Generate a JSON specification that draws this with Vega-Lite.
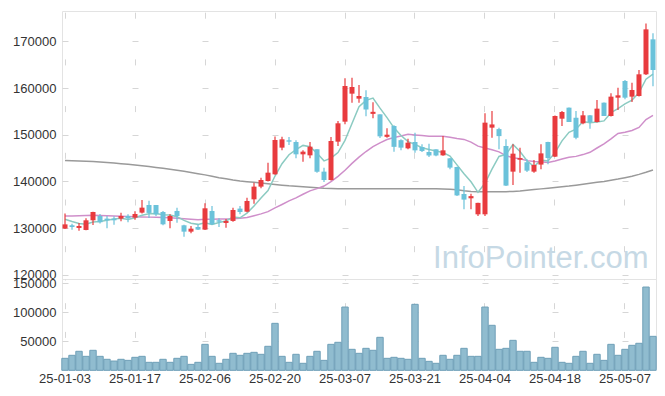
{
  "$schema": "https://vega.github.io/schema/vega-lite/v6.json",
  "padding": {"left": 12, "top": 10, "right": 5, "bottom": 5},
  "spacing": 0,
  "bounds": "flush",
  "config": {
    "font": "Liberation Sans",
    "view": {"stroke": "#e3e3e3"},
    "concat": {"spacing": 0},
    "axis": {"labelFont": "Liberation Sans", "labelFontSize": 13, "labelColor": "#333333", "ticks": false, "domain": false, "title": null, "gridColor": "#d6d6d6", "gridWidth": 1}
  },
  "datasets": {
    "k": [
      {"d":"25-01-03","o":129900,"h":133100,"l":129800,"c":130800,"v":20700,"m5":131900,"m20":132600,"m120":144450},
      {"d":"25-01-06","o":130600,"h":130950,"l":129670,"c":130250,"v":25900,"m5":131400,"m20":132600,"m120":144400},
      {"d":"25-01-07","o":130030,"h":131100,"l":129450,"c":130450,"v":32800,"m5":131000,"m20":132650,"m120":144350},
      {"d":"25-01-08","o":129600,"h":132100,"l":129550,"c":131670,"v":24100,"m5":130850,"m20":132700,"m120":144300},
      {"d":"25-01-09","o":131670,"h":133500,"l":130670,"c":133450,"v":34500,"m5":131320,"m20":132750,"m120":144250},
      {"d":"25-01-10","o":132600,"h":133000,"l":131000,"c":131250,"v":24100,"m5":131410,"m20":132700,"m120":144150},
      {"d":"25-01-13","o":132030,"h":132600,"l":129960,"c":131670,"v":19000,"m5":131700,"m20":132650,"m120":144050},
      {"d":"25-01-14","o":132030,"h":132530,"l":130740,"c":131670,"v":16000,"m5":131940,"m20":132600,"m120":143950},
      {"d":"25-01-15","o":132030,"h":133310,"l":131450,"c":132600,"v":19000,"m5":132130,"m20":132550,"m120":143800},
      {"d":"25-01-16","o":132600,"h":132950,"l":131240,"c":132100,"v":17200,"m5":131860,"m20":132500,"m120":143650},
      {"d":"25-01-17","o":132240,"h":133600,"l":131810,"c":133020,"v":22400,"m5":132210,"m20":132450,"m120":143500},
      {"d":"25-01-20","o":133310,"h":136020,"l":133100,"c":134380,"v":24100,"m5":132750,"m20":132400,"m120":143350},
      {"d":"25-01-21","o":134950,"h":135880,"l":132170,"c":133250,"v":13800,"m5":133070,"m20":132350,"m120":143200},
      {"d":"25-01-22","o":134950,"h":134950,"l":132600,"c":132950,"v":13800,"m5":133140,"m20":132300,"m120":143000},
      {"d":"25-01-23","o":133450,"h":133670,"l":130600,"c":130810,"v":19000,"m5":132880,"m20":132250,"m120":142800},
      {"d":"25-01-24","o":131530,"h":132950,"l":129960,"c":132600,"v":13800,"m5":132800,"m20":132200,"m120":142600},
      {"d":"25-01-31","o":133670,"h":134380,"l":131170,"c":132600,"v":20700,"m5":132440,"m20":132100,"m120":142400},
      {"d":"25-02-03","o":130600,"h":130700,"l":128170,"c":129240,"v":24100,"m5":131640,"m20":132000,"m120":142150},
      {"d":"25-02-04","o":129240,"h":130460,"l":128890,"c":129880,"v":10300,"m5":131030,"m20":131900,"m120":141900},
      {"d":"25-02-05","o":130240,"h":130810,"l":129600,"c":129670,"v":13800,"m5":130800,"m20":131800,"m120":141650},
      {"d":"25-02-06","o":129670,"h":135310,"l":129600,"c":134240,"v":44800,"m5":131130,"m20":131890,"m120":141400},
      {"d":"25-02-07","o":133670,"h":134740,"l":130670,"c":130810,"v":24100,"m5":130770,"m20":131920,"m120":141100},
      {"d":"25-02-10","o":131670,"h":132100,"l":130240,"c":131380,"v":12100,"m5":131200,"m20":131960,"m120":140800},
      {"d":"25-02-11","o":131100,"h":131950,"l":130100,"c":131530,"v":19000,"m5":131530,"m20":131960,"m120":140550},
      {"d":"25-02-12","o":131530,"h":134380,"l":131380,"c":133880,"v":29300,"m5":132370,"m20":131980,"m120":140300},
      {"d":"25-02-13","o":134170,"h":134740,"l":132950,"c":133450,"v":25900,"m5":132210,"m20":132090,"m120":140100},
      {"d":"25-02-14","o":133520,"h":136520,"l":133400,"c":135810,"v":29300,"m5":133210,"m20":132290,"m120":139950},
      {"d":"25-02-17","o":136160,"h":139730,"l":135240,"c":138880,"v":31000,"m5":134710,"m20":132650,"m120":139800},
      {"d":"25-02-18","o":138880,"h":140800,"l":138520,"c":140300,"v":27600,"m5":136460,"m20":133040,"m120":139650},
      {"d":"25-02-19","o":140090,"h":144020,"l":140000,"c":141870,"v":41400,"m5":138060,"m20":133530,"m120":139500},
      {"d":"25-02-20","o":141520,"h":149600,"l":141400,"c":148870,"v":81000,"m5":141150,"m20":134320,"m120":139350},
      {"d":"25-02-21","o":147230,"h":149580,"l":146660,"c":149010,"v":24100,"m5":143790,"m20":135050,"m120":139200},
      {"d":"25-02-24","o":148800,"h":149510,"l":147800,"c":148510,"v":13800,"m5":145710,"m20":135820,"m120":139050},
      {"d":"25-02-25","o":148440,"h":148800,"l":144940,"c":145800,"v":27600,"m5":146810,"m20":136460,"m120":138950},
      {"d":"25-02-26","o":145800,"h":146660,"l":144230,"c":146370,"v":12100,"m5":147710,"m20":137240,"m120":138850},
      {"d":"25-02-27","o":145580,"h":148440,"l":144940,"c":147440,"v":24100,"m5":147430,"m20":137980,"m120":138750},
      {"d":"25-02-28","o":146870,"h":146900,"l":141870,"c":142090,"v":32800,"m5":146040,"m20":138450,"m120":138650},
      {"d":"25-03-04","o":142090,"h":142940,"l":139880,"c":140300,"v":17200,"m5":144400,"m20":139010,"m120":138550},
      {"d":"25-03-05","o":140300,"h":149510,"l":140200,"c":148650,"v":44800,"m5":144970,"m20":139940,"m120":138500},
      {"d":"25-03-06","o":148510,"h":152940,"l":147580,"c":152440,"v":48300,"m5":146180,"m20":141080,"m120":138450},
      {"d":"25-03-07","o":152790,"h":162070,"l":152220,"c":160430,"v":109100,"m5":148780,"m20":142390,"m120":138450},
      {"d":"25-03-10","o":158790,"h":162210,"l":156860,"c":160210,"v":36200,"m5":152410,"m20":143860,"m120":138420},
      {"d":"25-03-11","o":157720,"h":160640,"l":156860,"c":158290,"v":29300,"m5":156000,"m20":145210,"m120":138400},
      {"d":"25-03-12","o":158070,"h":159500,"l":153940,"c":155400,"v":37900,"m5":157350,"m20":146400,"m120":138400},
      {"d":"25-03-13","o":154460,"h":156930,"l":153510,"c":154900,"v":34500,"m5":157850,"m20":147450,"m120":138400},
      {"d":"25-03-14","o":154360,"h":154400,"l":149300,"c":149650,"v":56900,"m5":155690,"m20":148260,"m120":138400},
      {"d":"25-03-17","o":149540,"h":151400,"l":149370,"c":150000,"v":20700,"m5":153650,"m20":148970,"m120":138400},
      {"d":"25-03-18","o":151860,"h":152000,"l":146370,"c":147400,"v":22400,"m5":151470,"m20":149400,"m120":138400},
      {"d":"25-03-19","o":148830,"h":149000,"l":146660,"c":147230,"v":20700,"m5":149840,"m20":149740,"m120":138400},
      {"d":"25-03-20","o":147080,"h":149150,"l":146870,"c":148300,"v":19000,"m5":148520,"m20":150070,"m120":138400},
      {"d":"25-03-21","o":148440,"h":150440,"l":146160,"c":146650,"v":113800,"m5":147920,"m20":149950,"m120":138400},
      {"d":"25-03-24","o":147370,"h":147940,"l":146300,"c":146500,"v":20700,"m5":147220,"m20":149830,"m120":138400},
      {"d":"25-03-25","o":146300,"h":148080,"l":145230,"c":145550,"v":15500,"m5":146850,"m20":149680,"m120":138400},
      {"d":"25-03-26","o":146870,"h":146900,"l":145400,"c":145550,"v":12100,"m5":146510,"m20":149670,"m120":138400},
      {"d":"25-03-27","o":145580,"h":149720,"l":145500,"c":146650,"v":25900,"m5":146180,"m20":149680,"m120":138380},
      {"d":"25-03-28","o":144940,"h":145000,"l":142590,"c":142950,"v":19000,"m5":145440,"m20":149460,"m120":138300},
      {"d":"25-03-31","o":143090,"h":143150,"l":136880,"c":137000,"v":25900,"m5":143540,"m20":149200,"m120":138200},
      {"d":"25-04-01","o":137300,"h":139020,"l":134020,"c":136100,"v":37900,"m5":141650,"m20":148990,"m120":138000},
      {"d":"25-04-02","o":136380,"h":137380,"l":134020,"c":136850,"v":24100,"m5":139910,"m20":148400,"m120":137850},
      {"d":"25-04-03","o":132950,"h":135450,"l":132600,"c":135400,"v":24100,"m5":137660,"m20":147550,"m120":137800},
      {"d":"25-04-04","o":132950,"h":154600,"l":132600,"c":152580,"v":109100,"m5":139590,"m20":147160,"m120":137800},
      {"d":"25-04-07","o":151510,"h":155080,"l":149370,"c":152200,"v":77600,"m5":142630,"m20":146760,"m120":137800},
      {"d":"25-04-08","o":151200,"h":151500,"l":146870,"c":149700,"v":36200,"m5":145350,"m20":146330,"m120":137800},
      {"d":"25-04-09","o":147580,"h":149000,"l":139000,"c":139100,"v":37900,"m5":145800,"m20":145510,"m120":137800},
      {"d":"25-04-10","o":142090,"h":147940,"l":139230,"c":145940,"v":51700,"m5":147900,"m20":145070,"m120":137850},
      {"d":"25-04-11","o":144650,"h":147230,"l":141870,"c":145000,"v":32800,"m5":146390,"m20":144830,"m120":137950},
      {"d":"25-04-14","o":144100,"h":144730,"l":142020,"c":142300,"v":32800,"m5":144410,"m20":144450,"m120":138100},
      {"d":"25-04-15","o":142090,"h":144590,"l":141870,"c":143520,"v":13800,"m5":143170,"m20":144250,"m120":138250},
      {"d":"25-04-16","o":143600,"h":147940,"l":142590,"c":146000,"v":22400,"m5":144550,"m20":144190,"m120":138400},
      {"d":"25-04-17","o":148440,"h":148500,"l":143660,"c":145000,"v":20700,"m5":144360,"m20":144030,"m120":138550},
      {"d":"25-04-18","o":145300,"h":154100,"l":145200,"c":154000,"v":39700,"m5":146160,"m20":144390,"m120":138700},
      {"d":"25-04-21","o":153430,"h":155080,"l":151870,"c":154860,"v":13800,"m5":148680,"m20":144810,"m120":138850},
      {"d":"25-04-22","o":155790,"h":155850,"l":152700,"c":152720,"v":12100,"m5":150520,"m20":145170,"m120":139000},
      {"d":"25-04-23","o":153650,"h":155080,"l":149010,"c":149370,"v":24100,"m5":151190,"m20":145360,"m120":139200},
      {"d":"25-04-24","o":152440,"h":155080,"l":152220,"c":154150,"v":32800,"m5":152820,"m20":145740,"m120":139400},
      {"d":"25-04-25","o":154150,"h":154200,"l":151290,"c":152720,"v":12100,"m5":152560,"m20":146230,"m120":139600},
      {"d":"25-04-28","o":152720,"h":157430,"l":152600,"c":155580,"v":27600,"m5":152710,"m20":147150,"m120":139800},
      {"d":"25-04-29","o":156860,"h":156900,"l":154000,"c":154000,"v":17200,"m5":152960,"m20":148050,"m120":140000},
      {"d":"25-04-30","o":154000,"h":158860,"l":153900,"c":158150,"v":44800,"m5":154720,"m20":149110,"m120":140250},
      {"d":"25-05-02","o":157930,"h":160070,"l":155290,"c":158430,"v":25900,"m5":155580,"m20":150270,"m120":140500},
      {"d":"25-05-07","o":161500,"h":161710,"l":157570,"c":157930,"v":36200,"m5":156620,"m20":150530,"m120":140800},
      {"d":"25-05-08","o":158150,"h":161140,"l":157000,"c":159570,"v":43100,"m5":157420,"m20":150900,"m120":141100},
      {"d":"25-05-09","o":158290,"h":163850,"l":158200,"c":162930,"v":46600,"m5":159000,"m20":151560,"m120":141500},
      {"d":"25-05-12","o":162930,"h":173800,"l":162800,"c":172560,"v":143600,"m5":161880,"m20":153240,"m120":141950},
      {"d":"25-05-13","o":170420,"h":171700,"l":160350,"c":163860,"v":58600,"m5":162970,"m20":154130,"m120":142450}
    ],
    "wm": [{"w": "InfoPointer.com", "d": "25-05-13", "y": 121530}]
  },
  "vconcat": [
    {
      "width": 594,
      "height": 268,
      "encoding": {
        "x": {"field": "d", "type": "ordinal", "sort": null,
          "scale": {"type": "band", "paddingInner": 0.4, "paddingOuter": 0.13},
          "axis": {"labels": false, "grid": true, "gridDash": [6, 40.7], "gridDashOffset": 45.5, "minExtent": 0, "maxExtent": 0, "labelPadding": 0, "offset": 0,
            "values": ["25-01-03","25-01-17","25-02-06","25-02-20","25-03-07","25-03-21","25-04-04","25-04-18","25-05-07"]}}
      },
      "layer": [
        {"data": {"name": "k"}, "mark": {"type": "line", "color": "#9a9a9a", "strokeWidth": 1.5},
          "encoding": {"y": {"field": "m120", "type": "quantitative",
            "scale": {"domain": [119100, 176490], "nice": false, "zero": false},
            "axis": {"values": [120000,130000,140000,150000,160000,170000], "format": "d", "grid": true, "gridDash": [6, 64], "gridDashOffset": 0, "labelPadding": 6}}}},
        {"data": {"name": "k"}, "mark": {"type": "line", "color": "#cf8fca", "strokeWidth": 1.5},
          "encoding": {"y": {"field": "m20", "type": "quantitative"}}},
        {"data": {"name": "k"}, "mark": {"type": "line", "color": "#8ccbc2", "strokeWidth": 1.5},
          "encoding": {"y": {"field": "m5", "type": "quantitative"}}},
        {"data": {"name": "k"}, "mark": {"type": "rule", "strokeWidth": 1.2},
          "encoding": {"y": {"field": "l", "type": "quantitative"}, "y2": {"field": "h"},
            "color": {"condition": {"test": "datum.c >= datum.o", "value": "#e83b3e"}, "value": "#6bc2da"}}},
        {"data": {"name": "k"}, "mark": {"type": "bar", "width": 5},
          "encoding": {"y": {"field": "o", "type": "quantitative"}, "y2": {"field": "c"},
            "color": {"condition": {"test": "datum.c >= datum.o", "value": "#e83b3e"}, "value": "#6bc2da"}}},
        {"data": {"name": "wm"}, "mark": {"type": "text", "fontSize": 31, "font": "Liberation Sans", "color": "#c6d9e5", "align": "right", "baseline": "alphabetic", "dx": -4.5},
          "encoding": {"x": {"field": "d", "type": "ordinal"}, "y": {"field": "y", "type": "quantitative"}, "text": {"field": "w"}}}
      ]
    },
    {
      "width": 594,
      "height": 89,
      "data": {"name": "k"},
      "mark": {"type": "bar", "width": 6.4, "fill": "#90bccf", "stroke": "#6e9fb7", "strokeWidth": 1},
      "encoding": {
        "x": {"field": "d", "type": "ordinal", "sort": null,
          "scale": {"type": "band", "paddingInner": 0.4, "paddingOuter": 0.13},
          "axis": {"labelAngle": 0, "labelPadding": 4, "grid": true, "gridDash": [6, 22.7], "gridDashOffset": 5,
            "values": ["25-01-03","25-01-17","25-02-06","25-02-20","25-03-07","25-03-21","25-04-04","25-04-18","25-05-07"]}},
        "y": {"field": "v", "type": "quantitative",
          "scale": {"domain": [4000, 157450], "nice": false, "zero": false},
          "axis": {"values": [50000, 100000, 150000], "format": "d", "grid": true, "gridDash": [6, 64], "gridDashOffset": 0, "labelPadding": 6}}
      }
    }
  ]
}
